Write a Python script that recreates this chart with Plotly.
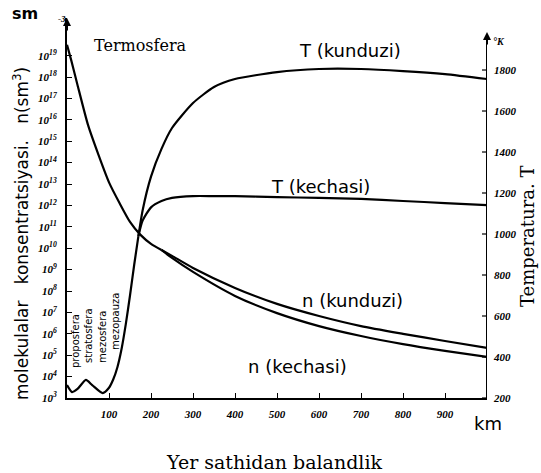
import plotly.graph_objects as go

# Altitude (km) and molecular concentration n (sm^-3), shared lower part
alt_n_common = [0, 10, 25, 50, 75, 100, 125, 150, 175, 200, 225]
n_common = [3.2e19, 6.2e18, 4.3e17, 5.8e15, 2.3e14, 1.2e13, 1.3e12, 1.7e11, 4.2e10, 1.6e10, 8.3e9]

# Upper part: day and night concentration
alt_n_upper = [250, 300, 400, 500, 600, 700, 800, 900, 1000]
n_day = [4.4e9, 1.2e9, 1.4e8, 2.5e7, 6.8e6, 2.3e6, 1.0e6, 4.6e5, 2.2e5]
n_night = [3.5e9, 7.8e8, 5.9e7, 9.3e6, 2.3e6, 7.9e5, 3.3e5, 1.6e5, 8.3e4]

# Temperature (K), shared lower part
alt_T_common = [0, 12, 25, 45, 60, 85, 100, 110, 120, 130, 140, 150, 160, 170]
T_common = [263, 229, 244, 288, 263, 224, 250, 290, 350, 440, 560, 700, 850, 990]

# Upper part: day and night temperature
alt_T_upper = [180, 200, 225, 250, 300, 350, 400, 500, 600, 700, 800, 900, 1000]
T_day = [1115, 1280, 1415, 1517, 1639, 1717, 1756, 1790, 1805, 1805, 1795, 1780, 1756]
T_night = [1065, 1130, 1161, 1176, 1185, 1185, 1185, 1180, 1176, 1171, 1161, 1151, 1141]

x_ticks = [100, 200, 300, 400, 500, 600, 700, 800, 900]
n_exponents = list(range(3, 20))
T_ticks = [200, 400, 600, 800, 1000, 1200, 1400, 1600, 1800]

line = dict(color="black", width=2.2, shape="spline", smoothing=0.6)
fig = go.Figure()

fig.add_trace(go.Scatter(x=alt_n_common, y=n_common, mode="lines", line=line, yaxis="y"))
for branch in (n_day, n_night):
    fig.add_trace(go.Scatter(x=[alt_n_common[-1]] + alt_n_upper,
                             y=[n_common[-1]] + branch, mode="lines", line=line, yaxis="y"))

fig.add_trace(go.Scatter(x=alt_T_common, y=T_common, mode="lines", line=line, yaxis="y2"))
for branch in (T_day, T_night):
    fig.add_trace(go.Scatter(x=[alt_T_common[-1]] + alt_T_upper,
                             y=[T_common[-1]] + branch, mode="lines", line=line, yaxis="y2"))

tick_font = dict(family="Liberation Serif", size=11, color="black")

fig.update_layout(
    width=541, height=473,
    margin=dict(l=67, r=54, t=18, b=75),
    paper_bgcolor="white", plot_bgcolor="white",
    showlegend=False,
    xaxis=dict(range=[0, 1000], showgrid=False, zeroline=False,
               showline=True, linecolor="black", linewidth=2,
               ticks="inside", ticklen=5, tickcolor="black",
               tickvals=x_ticks,
               ticktext=[f"<b><i>{v}</i></b>" for v in x_ticks],
               tickfont=tick_font, ticklabelstandoff=5),
    yaxis=dict(type="log", range=[3, 20.76], showgrid=False, zeroline=False,
               showline=True, linecolor="black", linewidth=2,
               ticks="inside", ticklen=5, tickcolor="black",
               tickvals=[10 ** e for e in n_exponents],
               ticktext=[f"<b><i>10<sup>{e}</sup></i></b>" for e in n_exponents],
               tickfont=tick_font, ticklabelstandoff=6),
    yaxis2=dict(overlaying="y", side="right", range=[200, 2053.7],
                showgrid=False, zeroline=False, showline=False,
                ticks="", tickvals=T_ticks,
                ticktext=[f"<b><i>{v}</i></b>" for v in T_ticks],
                tickfont=tick_font, ticklabelstandoff=6),
)

# Right temperature axis line with inward ticks
fig.add_shape(type="line", xref="x", yref="y2", x0=1000, x1=1000, y0=200, y1=1975,
              line=dict(color="black", width=2))
for v in T_ticks:
    fig.add_shape(type="line", xref="x", yref="y2", x0=988, x1=1000, y0=v, y1=v,
                  line=dict(color="black", width=1.2))

# Arrow tips on the vertical axes
fig.add_annotation(x=0, y=1.0, xref="x", yref="paper", ax=0, ay=14, text="",
                   showarrow=True, arrowhead=2, arrowsize=0.8, arrowwidth=2, arrowcolor="black")
fig.add_annotation(x=1000, y=1985, xref="x", yref="y2", ax=0, ay=14, text="",
                   showarrow=True, arrowhead=2, arrowsize=0.8, arrowwidth=2, arrowcolor="black")

sans = "DejaVu Sans"
serif = "DejaVu Serif"


def label(text, x, y, size=15, family=sans, angle=0, **kw):
    fig.add_annotation(text=text, x=x, y=y, xref="paper", yref="paper",
                       xanchor="center", yanchor="middle", showarrow=False,
                       textangle=angle, font=dict(family=family, size=size, color="black"), **kw)


def px(x, y):
    # pixel position in the 541x473 page -> paper coordinates
    return (x - 67) / 420, (398 - y) / 380


def put(text, x, y, **kw):
    a, b = px(x, y)
    label(text, a, b, **kw)


sp = "&nbsp;"
put("<b>sm</b>", 25, 14, size=16)
put("<b><i>-3</i></b>", 62, 19, size=9, family="Liberation Serif")
put("<b><i>°K</i></b>", 499, 42, size=10, family="Liberation Serif")
put("Termosfera", 140, 45, size=16, family=serif)
put("T (kunduzi)", 350, 50, size=18)
put("T (kechasi)", 320, 186, size=18)
put("n (kunduzi)", 352, 300, size=18)
put("n (kechasi)", 297, 366, size=18)
put("km", 488, 423, size=18)
put("Yer sathidan balandlik", 274, 462, size=19, family=serif)
put(f"molekulalar{sp*3}konsentratsiyasi.{sp*3}n(sm<sup>3</sup>)", 21, 234, size=17, angle=-90)
put(f"Temperatura.{sp}T", 527, 237, size=18, family=serif, angle=-90)

put("proposfera", 75, 341, size=10, angle=-90)
put("stratosfera", 88, 336, size=10, angle=-90)
put("mezosfera", 102, 337, size=10, angle=-90)
put("mezopauza", 115, 322, size=10, angle=-90)

fig.write_html("out.html")
